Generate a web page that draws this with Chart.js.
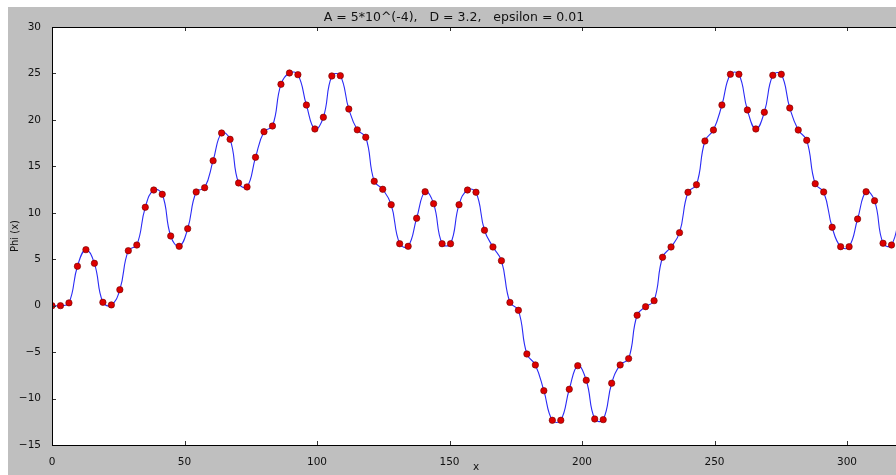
<!DOCTYPE html>
<html lang="en">
  <head>
    <meta charset="UTF-8" />
    <title>Phi (x)</title>
    <script src="https://cdn.jsdelivr.net/npm/chart.js@4"></script>
    <style>
      html, body { margin: 0; padding: 0; background: #fff; overflow: hidden; }
      .figure {
        position: absolute; left: 8px; top: 7px;
        width: 888px; height: 468px;
        background: #bfbfbf; overflow: hidden;
      }
      #phiChart { display: block; }
    </style>
  </head>
  <body>
    <div class="figure">
      <canvas id="phiChart" width="936" height="468" style="width:936px;height:468px"></canvas>
    </div>

    <script>
      // sample spacing along x (D = 3.2)
      const step = 3.2;
      // Phi values at x = 0, 3.2, 6.4, ...
      const phi = [
        0.00, 0.00, 0.30, 4.24, 6.03, 4.56, 0.36, 0.08, 1.72, 5.92,
        6.53, 10.59, 12.45, 11.99, 7.50, 6.39, 8.29, 12.24, 12.70, 15.61,
        18.59, 17.91, 13.21, 12.78, 15.97, 18.73, 19.34, 23.83, 25.05, 24.87,
        21.60, 19.02, 20.28, 24.73, 24.76, 21.17, 18.93, 18.13, 13.39, 12.53,
        10.87, 6.67, 6.39, 9.41, 12.27, 10.98, 6.67, 6.67, 10.87, 12.45,
        12.21, 8.12, 6.32, 4.84, 0.35, -0.50, -5.20, -6.38, -9.15, -12.34,
        -12.34, -9.00, -6.46, -8.03, -12.20, -12.27, -8.35, -6.38, -5.70, -1.03,
        -0.11, 0.54, 5.21, 6.32, 7.86, 12.21, 13.02, 17.73, 18.91, 21.60,
        24.91, 24.91, 21.07, 19.02, 20.82, 24.80, 24.91, 21.28, 18.91, 17.80,
        13.13, 12.24, 8.44, 6.35, 6.35, 9.33, 12.27, 11.30, 6.72, 6.53,
        10.0
      ];
      const xRange = [0, 320];
      const yRange = [-15, 30];
      const xTickStep = 50;
      const yTickStep = 5;
      const titleText = "A = 5*10^(-4),   D = 3.2,   epsilon = 0.01";

      const points = phi.map((v, i) => ({ x: i * step, y: v }));
      const minus = (v) => String(v).replace("-", "\u2212");

      Chart.defaults.font.family = "'DejaVu Sans', sans-serif";
      Chart.defaults.color = "#111";

      // white plot area, black frame and inward tick marks (matplotlib classic look)
      const framePlugin = {
        id: "frame",
        beforeDraw(chart) {
          const { ctx, chartArea: a } = chart;
          ctx.save();
          ctx.fillStyle = "#fff";
          ctx.fillRect(a.left, a.top, a.right - a.left, a.bottom - a.top);
          ctx.restore();
        },
        afterDraw(chart) {
          const { ctx, chartArea: a, scales } = chart;
          ctx.save();
          ctx.strokeStyle = "#333";
          ctx.lineWidth = 1;
          ctx.beginPath();
          scales.x.ticks.forEach((t) => {
            const px = Math.round(scales.x.getPixelForValue(t.value)) + 0.5;
            ctx.moveTo(px, a.bottom); ctx.lineTo(px, a.bottom - 4);
            ctx.moveTo(px, a.top); ctx.lineTo(px, a.top + 4);
          });
          scales.y.ticks.forEach((t) => {
            const py = Math.round(scales.y.getPixelForValue(t.value)) + 0.5;
            ctx.moveTo(a.left, py); ctx.lineTo(a.left + 4, py);
          });
          ctx.stroke();
          ctx.strokeStyle = "#000";
          ctx.strokeRect(a.left + 0.5, a.top + 0.5, a.right - a.left, a.bottom - a.top);
          ctx.restore();
        },
      };

      new Chart(document.getElementById("phiChart"), {
        type: "line",
        data: {
          datasets: [
            {
              label: "samples",
              data: points,
              showLine: false,
              order: 0,
              pointRadius: 3.2,
              pointBackgroundColor: "#dd0000",
              pointBorderColor: "#700000",
              pointBorderWidth: 0.6,
            },
            {
              label: "Phi",
              data: points,
              order: 1,
              borderColor: "#2a2af5",
              borderWidth: 1.1,
              pointRadius: 0,
              tension: 0.45,
              fill: false,
            },
          ],
        },
        options: {
          responsive: false,
          animation: false,
          layout: { padding: { left: 0, right: 44, top: 0, bottom: 0 } },
          plugins: {
            legend: { display: false },
            tooltip: { enabled: false },
            title: {
              display: true,
              text: titleText,
              color: "#111",
              font: { size: 12.5, weight: "normal" },
              padding: { top: 3, bottom: 2 },
            },
          },
          scales: {
            x: {
              type: "linear",
              min: xRange[0],
              max: xRange[1],
              grid: { display: false },
              border: { display: false },
              ticks: {
                stepSize: xTickStep,
                includeBounds: false,
                padding: 3,
                maxRotation: 0,
                font: { size: 10.5 },
                callback: minus,
              },
              title: {
                display: true,
                text: "x",
                font: { size: 10.5 },
                padding: { top: 0, bottom: 1 },
              },
              afterFit: (s) => { s.height = 30; },
            },
            y: {
              min: yRange[0],
              max: yRange[1],
              grid: { display: false },
              border: { display: false },
              ticks: {
                stepSize: yTickStep,
                padding: 3,
                font: { size: 10.5 },
                callback: minus,
              },
              title: {
                display: true,
                text: "Phi (x)",
                font: { size: 10 },
                padding: { top: 1, bottom: 0 },
              },
              afterFit: (s) => { s.width = 44; },
            },
          },
        },
        plugins: [framePlugin],
      });
    </script>
  </body>
</html>
